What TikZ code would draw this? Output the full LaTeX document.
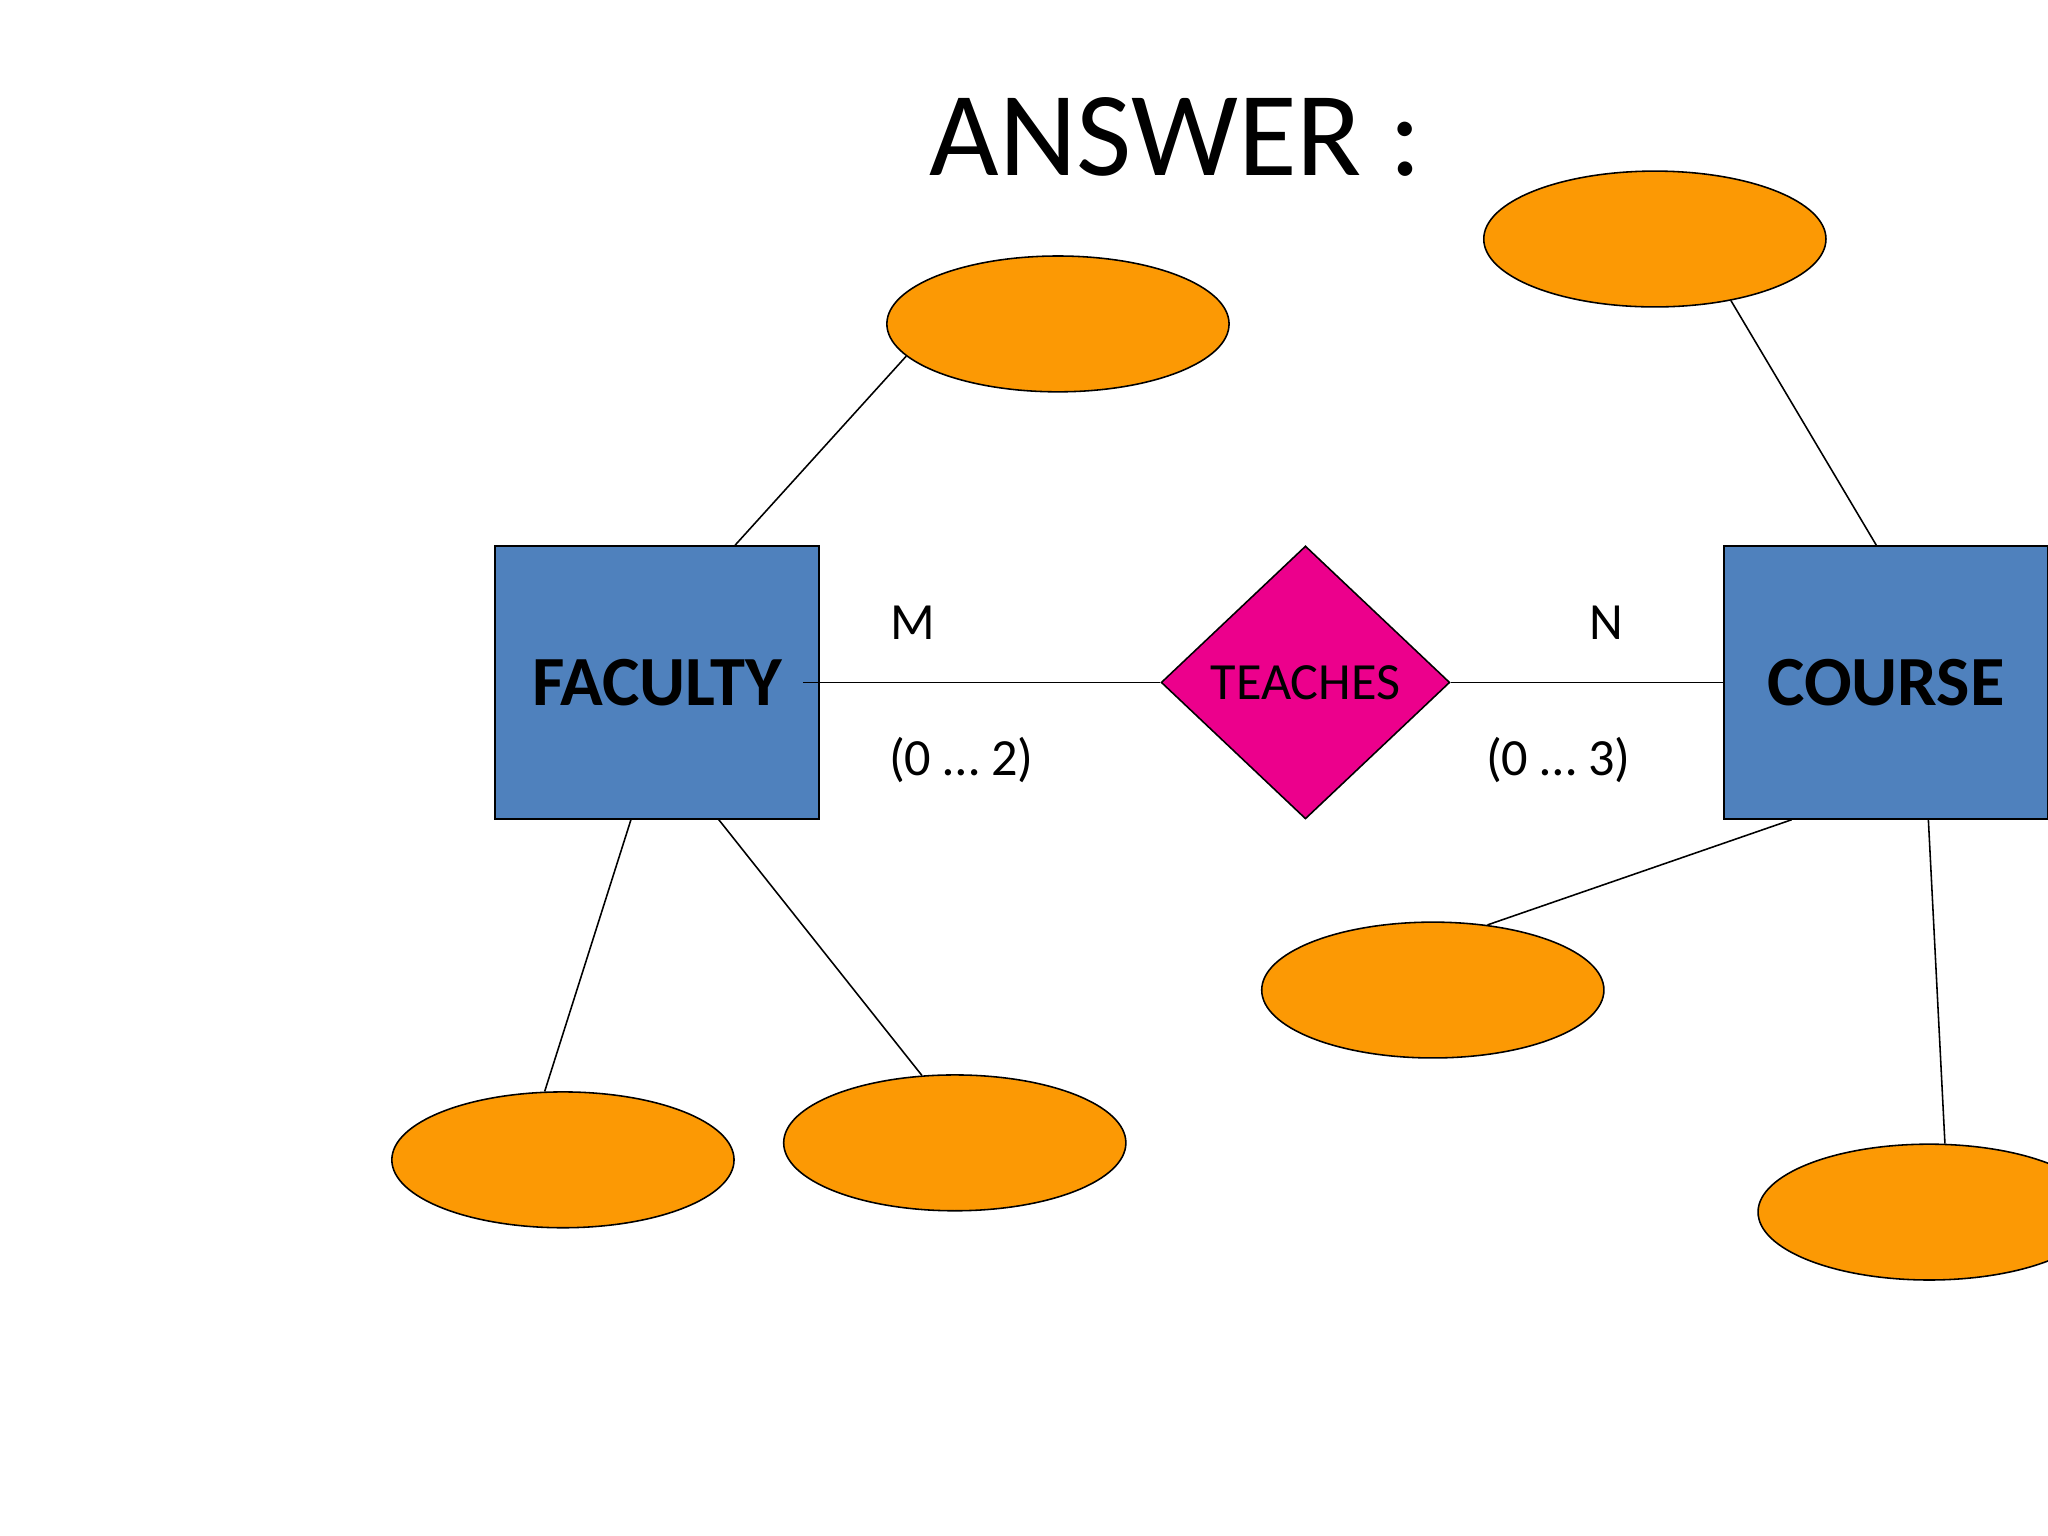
\documentclass[tikz,border=0pt]{standalone}
\usepackage{fontspec}
\setmainfont{Carlito}
\usetikzlibrary{shapes.geometric,calc}
\definecolor{attrorange}{RGB}{252,153,4}
\definecolor{entblue}{RGB}{79,129,189}
\tikzset{every picture/.style={line width=0.6pt}}
\tikzset{
entity/.style={draw, fill=entblue, minimum width=124pt, minimum height=104.5pt, inner sep=0pt, font=\fontsize{27}{30}\selectfont\bfseries},
attr/.style={draw, ellipse, fill=attrorange, minimum width=131pt, minimum height=52pt, inner sep=0pt},
rel/.style={draw, diamond, fill=magenta, minimum width=110.5pt, minimum height=104.5pt, inner sep=0pt, font=\fontsize{20}{24}\selectfont},
card/.style={font=\fontsize{20}{24}\selectfont}
}
\begin{document}
\begin{tikzpicture}[x=0.5pt,y=0.5pt,yscale=-1,xscale=1]
\useasboundingbox (0,0) rectangle (1568,1176);

% Title
\node (title) at (900,105) {\fontsize{46}{50}\selectfont ANSWER :};

% Entities and relationship
\node[entity] (fac) at (503,522.5) {FACULTY};
\node[entity] (crs) at (1444,522.5) {COURSE};
\node[rel] (tch) at (999.5,522.5) {TEACHES};

% Attributes
\node[attr] (a1) at (810,248) {};
\node[attr] (a2) at (1267,183) {};
\node[attr] (a3) at (431,888) {};
\node[attr] (a4) at (731,875) {};
\node[attr] (a5) at (1097,758) {};
\node[attr] (a6) at (1477,928) {};

% Cardinalities
\node[card] (m) at (699,477) {M};
\node[card] (n) at (1230,477) {N};
\node[card] (c1) at (736,582) {(0 … 2)};
\node[card] (c2) at (1193,582) {(0 … 3)};

% Connectors
\draw ($(fac.east)+(-13,0)$) -- (tch.west);
\draw (tch.east) -- (crs.west);
\draw ($(fac.north west)!0.74!(fac.north east)$) -- (a1.192);
\draw ($(crs.north west)!0.47!(crs.north east)$) -- (a2.-39);
\draw ($(fac.south west)!0.42!(fac.south east)$) -- (a3.105);
\draw ($(fac.south west)!0.69!(fac.south east)$) -- (a4.116);
\draw ($(crs.south west)!0.21!(crs.south east)$) -- (a5.50);
\draw ($(crs.south west)!0.63!(crs.south east)$) -- (a6.77);

\end{tikzpicture}
\end{document}
